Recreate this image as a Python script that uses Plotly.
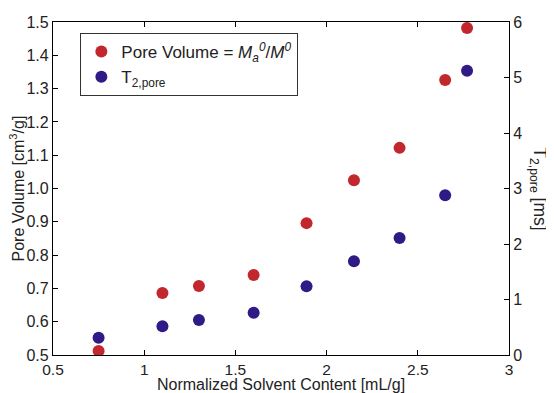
import plotly.graph_objects as go

solvent = [0.75, 1.10, 1.30, 1.60, 1.89, 2.15, 2.40, 2.65, 2.77]
pore_volume = [0.512, 0.686, 0.707, 0.740, 0.896, 1.025, 1.122, 1.326, 1.482]
t2_pore = [0.31, 0.52, 0.63, 0.76, 1.24, 1.69, 2.11, 2.88, 5.12]

x_ticks = [0.5, 1, 1.5, 2, 2.5, 3]
x_tick_text = ["0.5", "1", "1.5", "2", "2.5", "3"]
y_ticks = [0.5, 0.6, 0.7, 0.8, 0.9, 1.0, 1.1, 1.2, 1.3, 1.4, 1.5]
y_tick_text = ["0.5", "0.6", "0.7", "0.8", "0.9", "1.0", "1.1", "1.2", "1.3", "1.4", "1.5"]
y2_ticks = [0, 1, 2, 3, 4, 5, 6]

RED = "#c1272d"
BLUE = "#2f1a86"
FONT = "Liberation Sans, Arial, sans-serif"

fig = go.Figure()
fig.add_trace(go.Scatter(
    x=solvent, y=pore_volume, mode="markers",
    marker=dict(color=RED, size=12),
    name="Pore Volume = <i>M</i><sub><i>a</i></sub><sup><i>0</i></sup>/<i>M</i><sup><i>0</i></sup>",
    yaxis="y"))
fig.add_trace(go.Scatter(
    x=solvent, y=t2_pore, mode="markers",
    marker=dict(color=BLUE, size=12),
    name="T<sub>2,pore</sub>",
    yaxis="y2"))

axis_common = dict(showline=True, linecolor="black", linewidth=1.2,
                   ticks="inside", ticklen=5, tickcolor="black",
                   showgrid=False, zeroline=False)
tick_font = dict(size=16, color="#222", family=FONT)

# page body adds an 8px margin, so the figure is 8px smaller and margins shifted
fig.update_layout(
    width=546, height=385,
    margin=dict(l=45, r=45, t=14, b=38, autoexpand=False),
    paper_bgcolor="white", plot_bgcolor="white",
    font=dict(family=FONT, color="#222"),
    showlegend=True,
    legend=dict(x=0.06, y=0.967, xanchor="left", yanchor="top",
                bordercolor="#333", borderwidth=1, bgcolor="white",
                font=dict(size=17, family=FONT, color="#222"),
                itemwidth=30, tracegroupgap=0),
    xaxis=dict(range=[0.5, 3], tickvals=x_ticks, ticktext=x_tick_text,
               mirror="ticks", automargin=False,
               tickfont=dict(size=15.5, color="#222", family=FONT), **axis_common),
    yaxis=dict(range=[0.5, 1.5], tickvals=y_ticks, ticktext=y_tick_text,
               automargin=False, tickfont=tick_font, **axis_common),
    yaxis2=dict(range=[0, 6], tickvals=y2_ticks, overlaying="y", side="right",
                automargin=False, tickfont=tick_font, **axis_common),
)

fig.add_annotation(text="Normalized Solvent Content [mL/g]", xref="paper", yref="paper",
                   x=0.5, y=-0.090, xanchor="center", yanchor="middle", showarrow=False,
                   font=dict(size=16, family=FONT, color="#222"))
fig.add_annotation(text="Pore Volume [cm<sup>3</sup>/g]", xref="paper", yref="paper",
                   x=-0.079, y=0.5, xanchor="center", yanchor="middle", textangle=-90,
                   showarrow=False, font=dict(size=16, family=FONT, color="#222"))
fig.add_annotation(text="T<sub>2,pore</sub> [ms]", xref="paper", yref="paper",
                   x=1.064, y=0.5, xanchor="center", yanchor="middle", textangle=90,
                   showarrow=False, font=dict(size=17.5, family=FONT, color="#222"))

fig.write_html("out.html")
